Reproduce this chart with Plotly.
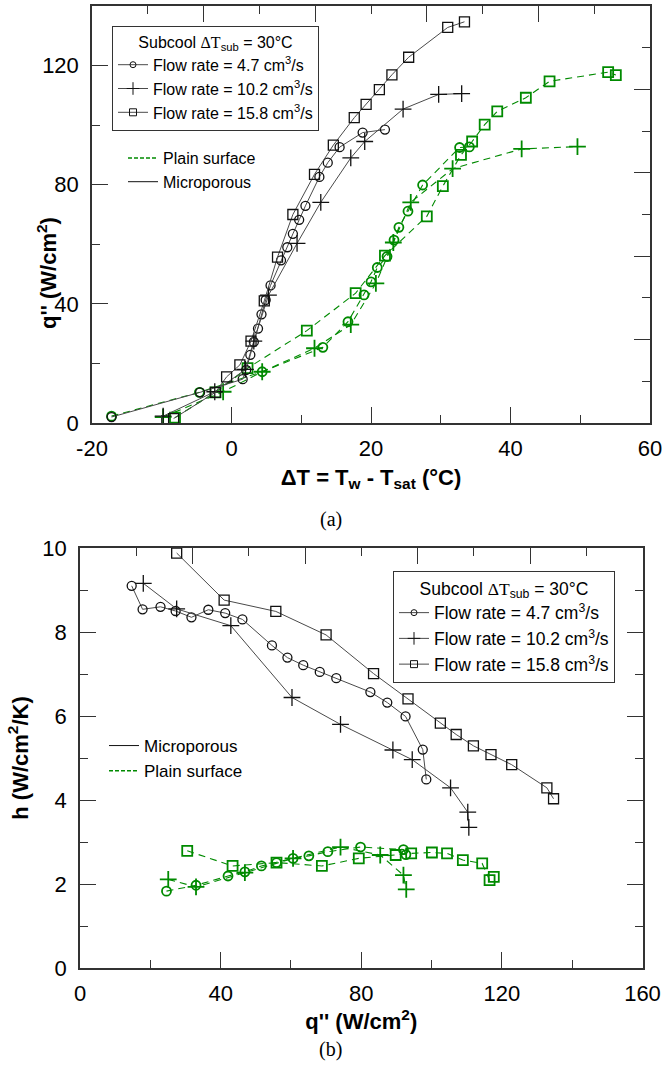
import plotly.graph_objects as go

# ---------------- (a) heat flux vs wall superheat ----------------
# Microporous surface
mp47_dT = [-17.2, -4.5, 1.6, 2.1, 2.7, 3.2, 3.8, 4.3, 4.9, 5.6, 7.1, 8.0, 8.8, 9.7, 10.6, 12.6, 13.8, 15.5, 18.8, 22.0]
mp47_q = [2.0, 10.3, 14.7, 17.8, 22.9, 27.2, 31.7, 36.5, 41.3, 46.2, 54.6, 59.0, 63.5, 68.2, 72.9, 82.6, 87.4, 92.6, 97.5, 98.5]
mp102_dT = [-9.8, -2.4, 2.0, 3.2, 5.3, 9.4, 12.8, 17.1, 19.1, 24.6, 29.7, 33.0]
mp102_q = [2.3, 10.5, 18.0, 27.5, 42.9, 60.3, 74.1, 89.0, 94.5, 105.4, 110.3, 110.6]
mp158_dT = [-8.3, -2.3, -0.7, 1.2, 2.8, 4.7, 6.6, 8.8, 11.9, 14.6, 17.6, 19.3, 21.2, 23.0, 25.4, 31.0, 33.4]
mp158_q = [1.5, 10.3, 15.5, 19.5, 27.5, 41.0, 55.7, 70.0, 83.5, 93.3, 102.5, 107.0, 111.9, 116.9, 122.8, 132.8, 134.7]

# Plain surface
pl47_dT = [-17.2, -4.6, 4.4, 13.1, 16.7, 19.0, 20.0, 20.9, 22.3, 23.3, 24.0, 25.3, 27.4, 32.7, 34.1]
pl47_q = [2.3, 10.3, 17.2, 25.4, 34.0, 43.0, 47.4, 52.2, 55.9, 61.4, 65.7, 71.1, 79.9, 92.5, 92.7]
pl102_dT = [-9.8, -1.2, 4.4, 11.9, 17.1, 20.7, 23.2, 25.7, 31.7, 41.6, 49.6]
pl102_q = [2.0, 10.5, 17.2, 25.1, 33.0, 46.9, 60.6, 74.1, 85.4, 92.0, 92.8]
pl158_dT = [-8.1, -2.3, 2.3, 10.8, 17.8, 22.0, 28.0, 30.3, 32.9, 34.5, 36.3, 38.1, 42.2, 45.6, 54.0, 55.1]
pl158_q = [1.8, 10.3, 18.4, 31.0, 43.6, 56.2, 69.4, 79.5, 90.0, 94.5, 100.2, 104.6, 109.2, 114.7, 117.8, 116.8]

# ---------------- (b) heat transfer coefficient vs heat flux ----------------
mp47_qb = [14.7, 17.8, 22.9, 27.2, 31.7, 36.5, 41.3, 46.2, 54.6, 59.0, 63.5, 68.2, 72.9, 82.6, 87.4, 92.6, 97.5, 98.5]
mp47_h = [9.1, 8.54, 8.6, 8.5, 8.35, 8.53, 8.45, 8.3, 7.68, 7.39, 7.21, 7.05, 6.9, 6.57, 6.32, 5.99, 5.2, 4.49]
mp102_qb = [18.0, 27.5, 42.9, 60.3, 74.1, 89.0, 94.5, 105.4, 110.3, 110.6]
mp102_h = [9.16, 8.55, 8.15, 6.44, 5.8, 5.19, 4.96, 4.29, 3.71, 3.35]
mp158_qb = [27.5, 41.0, 55.7, 70.0, 83.5, 93.3, 102.5, 107.0, 111.9, 116.9, 122.8, 132.8, 134.7]
mp158_h = [9.88, 8.76, 8.49, 7.93, 7.01, 6.41, 5.83, 5.56, 5.29, 5.08, 4.84, 4.29, 4.03]

pl47_qb = [24.6, 33.0, 42.1, 46.9, 51.6, 55.9, 60.6, 65.1, 70.5, 79.8, 92.0, 92.7]
pl47_h = [1.83, 1.97, 2.19, 2.29, 2.43, 2.51, 2.61, 2.67, 2.77, 2.88, 2.82, 2.70]
pl102_qb = [25.1, 33.0, 46.9, 60.6, 74.1, 85.4, 92.0, 92.8]
pl102_h = [2.11, 1.93, 2.27, 2.61, 2.88, 2.69, 2.21, 1.87]
pl158_qb = [30.5, 43.4, 55.9, 68.8, 79.3, 89.8, 94.2, 100.1, 104.4, 108.9, 114.4, 116.5, 117.7]
pl158_h = [2.79, 2.43, 2.51, 2.43, 2.61, 2.69, 2.73, 2.75, 2.73, 2.57, 2.49, 2.09, 2.17]

# tick labels of the superheat axis (plain hyphen for the negative value)
dT_tickvals = [-20, 0, 20, 40, 60]
dT_ticktext = ["-20", "0", "20", "40", "60"]

flow_labels = ["Flow rate = 4.7 cm<sup>3</sup>/s",
               "Flow rate = 10.2 cm<sup>3</sup>/s",
               "Flow rate = 15.8 cm<sup>3</sup>/s"]
surface_labels = ["Plain surface", "Microporous"]
legend_title = "Subcool <span style='font-family:Liberation Serif'>ΔT</span><sub>sub</sub> = 30°C"

FONT = "Liberation Sans, Arial, sans-serif"
BLACK_LINE = "#4a4a4a"
BLACK_MK = "#111111"
GREEN = "#008a00"
symbols = ["circle-open", "cross-thin-open", "square-open"]
sizes = [9, 12, 10]

W, H = 663, 1079


def px_dom_x(a, b):
    return [a / W, b / W]


def px_dom_y(top, bottom):
    return [1 - bottom / H, 1 - top / H]


fig = go.Figure()


def add_series(x, y, sym_i, plain, xa, ya):
    if plain:
        line = dict(color=GREEN, width=1.1, dash="7px,5px")
        mk = dict(symbol=symbols[sym_i], size=sizes[sym_i], color=GREEN,
                  line=dict(width=1.8, color=GREEN))
    else:
        line = dict(color=BLACK_LINE, width=1)
        mk = dict(symbol=symbols[sym_i], size=sizes[sym_i], color=BLACK_MK,
                  line=dict(width=1.3, color=BLACK_MK))
    fig.add_trace(go.Scatter(x=x, y=y, mode="lines+markers", line=line, marker=mk,
                             xaxis=xa, yaxis=ya, showlegend=False, hoverinfo="x+y"))


# panel (a)
for i, (x, y) in enumerate([(pl47_dT, pl47_q), (pl102_dT, pl102_q), (pl158_dT, pl158_q)]):
    add_series(x, y, i, True, "x", "y")
for i, (x, y) in enumerate([(mp47_dT, mp47_q), (mp102_dT, mp102_q), (mp158_dT, mp158_q)]):
    add_series(x, y, i, False, "x", "y")

# panel (b)
for i, (x, y) in enumerate([(pl47_qb, pl47_h), (pl102_qb, pl102_h), (pl158_qb, pl158_h)]):
    add_series(x, y, i, True, "x2", "y2")
for i, (x, y) in enumerate([(mp47_qb, mp47_h), (mp102_qb, mp102_h), (mp158_qb, mp158_h)]):
    add_series(x, y, i, False, "x2", "y2")

# empty traces that carry the mirrored frame axes
fig.add_trace(go.Scatter(x=[None], y=[None], xaxis="x3", yaxis="y3", showlegend=False, hoverinfo="skip"))
fig.add_trace(go.Scatter(x=[None], y=[None], xaxis="x4", yaxis="y4", showlegend=False, hoverinfo="skip"))

# legend entries
for lg, xa, ya in [("legend", "x", "y"), ("legend3", "x2", "y2")]:
    for i, name in enumerate(flow_labels):
        fig.add_trace(go.Scatter(
            x=[None], y=[None], mode="lines+markers", name=name, legend=lg,
            line=dict(color=BLACK_LINE, width=1),
            marker=dict(symbol=symbols[i], size=[6, 9, 7][i], color=BLACK_MK,
                        line=dict(width=1, color=BLACK_MK)),
            xaxis=xa, yaxis=ya))

surf_line = {"Plain surface": dict(color=GREEN, width=1.5, dash="4px,2px"),
             "Microporous": dict(color="#111111", width=1)}
for name in surface_labels:
    fig.add_trace(go.Scatter(x=[None], y=[None], mode="lines", name=name, legend="legend2",
                             line=surf_line[name], xaxis="x", yaxis="y"))
for name in reversed(surface_labels):
    fig.add_trace(go.Scatter(x=[None], y=[None], mode="lines", name=name, legend="legend4",
                             line=surf_line[name], xaxis="x2", yaxis="y2"))

AX_COL = "#333333"
tickfont = dict(family=FONT, size=22, color="black")
titlefont = dict(family=FONT, size=22, color="black")


def main_axis(dom, rng, dtick, mdtick, **kw):
    d = dict(domain=dom, range=rng, tick0=rng[0], dtick=dtick, ticks="inside",
             ticklen=16, tickwidth=1, tickcolor=AX_COL,
             minor=dict(tickmode="linear", tick0=rng[0], dtick=mdtick, ticks="inside",
                        ticklen=8, tickwidth=1, tickcolor=AX_COL),
             showline=True, linecolor=AX_COL, linewidth=1.5, showgrid=False,
             zeroline=False, tickfont=tickfont, fixedrange=True, automargin=False)
    d.update(kw)
    return d


def frame_axis(rng, tick0, dtick, mdtick, **kw):
    d = dict(range=rng, tick0=tick0, dtick=dtick, ticks="inside", ticklen=16,
             tickwidth=1, tickcolor=AX_COL,
             minor=dict(tick0=tick0, dtick=mdtick, ticks="inside", ticklen=8,
                        tickwidth=1, tickcolor=AX_COL),
             showline=True, linecolor=AX_COL, linewidth=1.5, showgrid=False,
             zeroline=False, showticklabels=False, fixedrange=True, automargin=False)
    d.update(kw)
    return d


dxa = px_dom_x(92, 650)
dya = px_dom_y(6, 423)
dxb = px_dom_x(80, 642.5)
dyb = px_dom_y(548, 968)

fig.update_layout(
    width=W, height=H, margin=dict(l=0, r=0, t=0, b=0, autoexpand=False),
    paper_bgcolor="white", plot_bgcolor="white",
    font=dict(family=FONT, color="black"),
    xaxis=main_axis(dxa, [-20, 60], 20, 10, anchor="y", ticklabelstandoff=5,
                    tickmode="array", tickvals=dT_tickvals, ticktext=dT_ticktext,
                    title=dict(text="<b>ΔT = T<sub>w</sub> - T<sub>sat</sub> (°C)</b>",
                               font=titlefont, standoff=9)),
    yaxis=main_axis(dya, [0, 140], 40, 20, anchor="x", ticklabelstandoff=7),
    xaxis3=frame_axis([-20, 60], -4, 16, 8, overlaying="x", side="top", anchor="y3"),
    yaxis3=frame_axis([0, 140], 0, 28, 14, overlaying="y", side="right", anchor="x3"),
    xaxis2=main_axis(dxb, [0, 160], 40, 20, anchor="y2", ticklabelstandoff=5,
                     title=dict(text="<b>q'' (W/cm<sup>2</sup>)</b>", font=titlefont, standoff=3)),
    yaxis2=main_axis(dyb, [0, 10], 2, 1, anchor="x2", ticklabelstandoff=7,
                     title=dict(text="<b>h (W/cm<sup>2</sup>/K)</b>", font=titlefont, standoff=8)),
    xaxis4=frame_axis([0, 160], 0, 32, 16, overlaying="x2", side="top", anchor="y4"),
    yaxis4=frame_axis([0, 10], 0, 2, 1, overlaying="y2", side="right", anchor="x4"),
    legend=dict(x=112 / W, y=1 - 26 / H, xanchor="left", yanchor="top",
                bgcolor="white", bordercolor="#333", borderwidth=1,
                font=dict(family=FONT, size=16), tracegroupgap=0,
                title=dict(text=legend_title, side="top center", font=dict(family=FONT, size=16))),
    legend2=dict(x=123 / W, y=1 - 141 / H, xanchor="left", yanchor="top",
                 bgcolor="rgba(0,0,0,0)", borderwidth=0, font=dict(family=FONT, size=16)),
    legend3=dict(x=393 / W, y=1 - 571 / H, xanchor="left", yanchor="top",
                 bgcolor="white", bordercolor="#333", borderwidth=1,
                 font=dict(family=FONT, size=17.5), tracegroupgap=0,
                 title=dict(text=legend_title, side="top center", font=dict(family=FONT, size=17.5))),
    legend4=dict(x=104 / W, y=1 - 728 / H, xanchor="left", yanchor="top",
                 bgcolor="rgba(0,0,0,0)", borderwidth=0, font=dict(family=FONT, size=17)),
    annotations=[
        dict(text="<b>q'' (W/cm<sup>2</sup>)</b>", x=31 / W, y=1 - 215 / H, xref="paper", yref="paper",
             textangle=-90, showarrow=False, font=titlefont),
        dict(text="(a)", x=331 / W, y=1 - 519 / H, xref="paper", yref="paper",
             showarrow=False, font=dict(family="Liberation Serif, Times New Roman, serif", size=20)),
        dict(text="(b)", x=330 / W, y=1 - 1063 / H, xref="paper", yref="paper",
             showarrow=False, font=dict(family="Liberation Serif, Times New Roman, serif", size=20)),
    ],
)

fig.write_html("out.html")
